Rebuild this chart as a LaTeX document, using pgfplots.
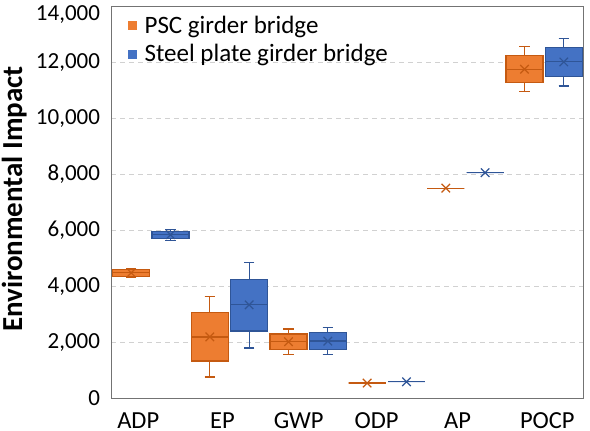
\documentclass[border=0pt]{standalone}
\usepackage{fontspec}
\setmainfont{Carlito}
\usepackage{pgfplots}
\pgfplotsset{compat=1.18}
\usepgfplotslibrary{statistics}
\definecolor{orF}{HTML}{ED7D31}
\definecolor{orD}{HTML}{C55A11}
\definecolor{blF}{HTML}{4472C4}
\definecolor{blD}{HTML}{2F5597}
\begin{document}
\begin{tikzpicture}
\begin{axis}[
  scale only axis, width=472pt, height=392pt,
  xmin=-0.5, xmax=5.5, ymin=0, ymax=14000,
  ytick={0,2000,4000,6000,8000,10000,12000,14000},
  yticklabels={0,{2,000},{4,000},{6,000},{8,000},{10,000},{12,000},{\raisebox{-14pt}[0pt][0pt]{14,000}}},
  xtick={-0.16,0.91,1.88,2.87,3.90,5.04},
  xticklabels={ADP,EP,GWP,ODP,AP,POCP},
  tick style={draw=none},
  ymajorgrids,
  major grid style={dash pattern=on 5pt off 4pt, color=black!18, line width=0.8pt},
  axis line style={black!55, line width=0.9pt},
  yticklabel style={font=\fontsize{23}{27}\selectfont, xshift=-8pt},
  xticklabel style={font=\fontsize{24.5}{28}\selectfont, inner sep=0pt, yshift=-14pt},
  ylabel={Environmental Impact},
  every axis y label/.style={at={([xshift=-110pt,yshift=3.5pt]axis description cs:0,0.5)}, rotate=90, anchor=north, inner sep=0pt, font=\bfseries\fontsize{29}{33}\selectfont},
  legend style={at={(0,1)}, anchor=north west, draw=none, fill=none, xshift=13.5pt, yshift=-5pt, font=\fontsize{25}{29}\selectfont, row sep=6pt},
  legend cell align=left,
  orbox/.style={forget plot, draw=orD, fill=orF, line width=1.2pt, solid, mark=none, boxplot/draw direction=y, boxplot/box extend=0.47, boxplot/whisker extend=0.13},
  blbox/.style={forget plot, draw=blD, fill=blF, line width=1.2pt, solid, mark=none, boxplot/draw direction=y, boxplot/box extend=0.47, boxplot/whisker extend=0.13},
]
% PSC girder bridge (orange)
\addplot[orbox, boxplot prepared={draw position=-0.25, lower whisker=4308, lower quartile=4365, median=4487, upper quartile=4594, upper whisker=4651}] coordinates {};
\addplot[orbox, boxplot prepared={draw position=0.75, lower whisker=766, lower quartile=1338, median=2197, upper quartile=3066, upper whisker=3639}] coordinates {};
\addplot[orbox, boxplot prepared={draw position=1.75, lower whisker=1574, lower quartile=1742, median=2040, upper quartile=2304, upper whisker=2483}] coordinates {};
\addplot[orbox, boxplot prepared={draw position=2.75, lower whisker=551, lower quartile=551, median=551, upper quartile=551, upper whisker=551}] coordinates {};
\addplot[orbox, boxplot prepared={draw position=3.75, lower whisker=7514, lower quartile=7514, median=7514, upper quartile=7514, upper whisker=7514}] coordinates {};
\addplot[orbox, boxplot prepared={draw position=4.75, lower whisker=10963, lower quartile=11285, median=11761, upper quartile=12237, upper whisker=12559}] coordinates {};
% Steel plate girder bridge (blue)
\addplot[blbox, boxplot prepared={draw position=0.25, lower whisker=5642, lower quartile=5703, median=5846, upper quartile=5975, upper whisker=6025}] coordinates {};
\addplot[blbox, boxplot prepared={draw position=1.25, lower whisker=1803, lower quartile=2411, median=3353, upper quartile=4247, upper whisker=4866}] coordinates {};
\addplot[blbox, boxplot prepared={draw position=2.25, lower whisker=1564, lower quartile=1742, median=2054, upper quartile=2351, upper whisker=2530}] coordinates {};
\addplot[blbox, boxplot prepared={draw position=3.25, lower whisker=597, lower quartile=597, median=597, upper quartile=597, upper whisker=597}] coordinates {};
\addplot[blbox, boxplot prepared={draw position=4.25, lower whisker=8065, lower quartile=8065, median=8065, upper quartile=8065, upper whisker=8065}] coordinates {};
\addplot[blbox, boxplot prepared={draw position=5.25, lower whisker=11163, lower quartile=11510, median=12022, upper quartile=12523, upper whisker=12859}] coordinates {};
% means
\addplot[forget plot, only marks, mark=x, mark size=6pt, mark options={draw=orD, line width=1.2pt}] coordinates {(-0.25,4490) (0.75,2200) (1.75,2030) (2.75,551) (3.75,7514) (4.75,11760)};
\addplot[forget plot, only marks, mark=x, mark size=6pt, mark options={draw=blD, line width=1.2pt}] coordinates {(0.25,5850) (1.25,3345) (2.25,2050) (3.25,597) (4.25,8065) (5.25,12020)};
% legend
\addlegendimage{legend image code/.code={\fill[orF] (0pt,-4pt) rectangle (8pt,4pt); \path (14pt,0pt);}}
\addlegendentry{PSC girder bridge}
\addlegendimage{legend image code/.code={\fill[blF] (0pt,-4pt) rectangle (8pt,4pt); \path (14pt,0pt);}}
\addlegendentry{Steel plate girder bridge}
\end{axis}
\pgfresetboundingbox
\path (-111.5pt,-32.5pt) rectangle (478.5pt,398.5pt);
\end{tikzpicture}
\end{document}
